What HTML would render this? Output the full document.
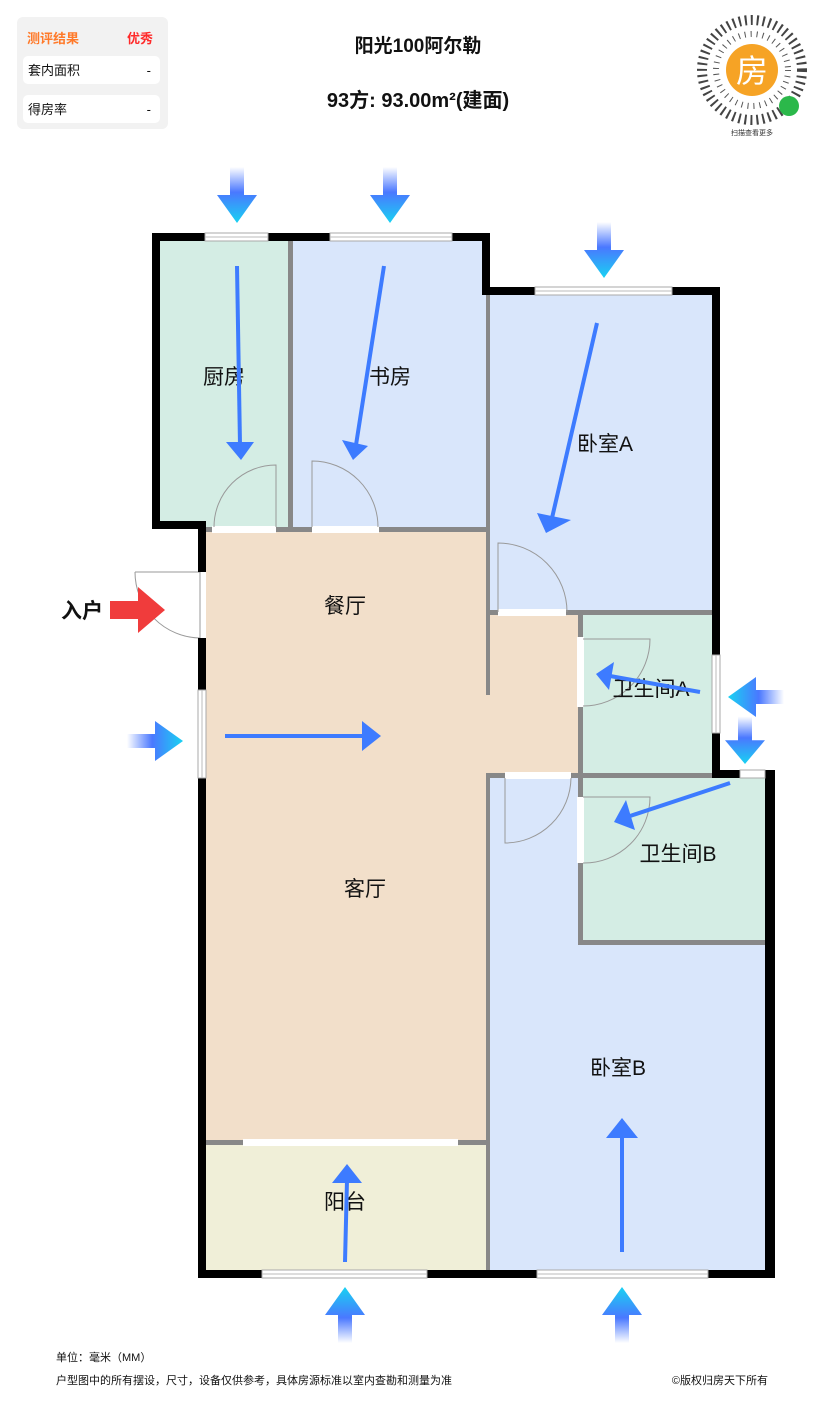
<!DOCTYPE html>
<html><head><meta charset="utf-8"><style>
body{margin:0;width:837px;height:1400px;background:#fff;overflow:hidden;font-family:"Liberation Sans","Noto Sans CJK SC",sans-serif}
</style></head><body>
<svg width="837" height="1400" viewBox="0 0 837 1400" xmlns="http://www.w3.org/2000/svg" font-family="Liberation Sans, Noto Sans CJK SC, sans-serif">
<defs>
<linearGradient id="g" gradientUnits="userSpaceOnUse" x1="0" y1="-56" x2="0" y2="0">
<stop offset="0" stop-color="#ffffff"/><stop offset="0.45" stop-color="#4a78ff"/><stop offset="1" stop-color="#18d2f2"/></linearGradient>
<g id="ar"><rect x="-7" y="-56" width="14" height="30" fill="url(#g)"/><polygon points="-20,-28 20,-28 0,0" fill="url(#g)"/></g>
</defs>
<rect x="17" y="17" width="151" height="112" rx="6" fill="#f2f2f2"/>
<text x="27" y="43" font-size="13" fill="#ff7a2a" font-weight="bold">测评结果</text>
<text x="153" y="43" font-size="13" fill="#ff2a2a" text-anchor="end" font-weight="bold">优秀</text>
<rect x="23" y="56" width="137" height="28" rx="5" fill="#fff"/>
<text x="28" y="75" font-size="13" fill="#111">套内面积</text><text x="151" y="75" font-size="13" fill="#111" text-anchor="end">-</text>
<rect x="23" y="95" width="137" height="28" rx="5" fill="#fff"/>
<text x="28" y="114" font-size="13" fill="#111">得房率</text><text x="151" y="114" font-size="13" fill="#111" text-anchor="end">-</text>
<text x="418" y="52" font-size="19" fill="#111" text-anchor="middle" font-weight="bold">阳光100阿尔勒</text>
<text x="418" y="107" font-size="20" fill="#111" text-anchor="middle" font-weight="bold">93方: 93.00m²(建面)</text>
<circle cx="752" cy="70" r="50" fill="none" stroke="#444" stroke-width="10" stroke-dasharray="2 4"/>
<circle cx="752" cy="70" r="36" fill="none" stroke="#555" stroke-width="6" stroke-dasharray="1 5"/>
<circle cx="752" cy="70" r="26" fill="#f6a325"/>
<text x="752" y="82" font-size="32" fill="#fff" text-anchor="middle">房</text>
<circle cx="789" cy="106" r="10" fill="#2bb84a"/>
<text x="752" y="135" font-size="7" fill="#333" text-anchor="middle">扫描查看更多</text>
<rect x="160" y="241" width="130" height="288" fill="#d4ede4"/>
<rect x="291" y="241" width="195" height="288" fill="#d9e6fb"/>
<rect x="488" y="295" width="226" height="318" fill="#d9e6fb"/>
<rect x="206" y="530" width="282" height="612" fill="#f2dfca"/>
<rect x="488" y="613" width="92" height="162" fill="#f2dfca"/>
<rect x="580" y="613" width="134" height="162" fill="#d4ede4"/>
<rect x="580" y="775" width="187" height="168" fill="#d4ede4"/>
<rect x="488" y="775" width="92" height="497" fill="#d9e6fb"/>
<rect x="580" y="943" width="187" height="329" fill="#d9e6fb"/>
<rect x="206" y="1142" width="282" height="130" fill="#f0efd8"/>
<g fill="#888">
<rect x="288" y="241" width="5" height="288"/>
<rect x="486" y="295" width="4" height="318"/>
<rect x="206" y="527" width="282" height="5"/>
<rect x="486" y="610" width="229" height="5"/>
<rect x="486" y="615" width="4" height="80"/>
<rect x="578" y="615" width="5" height="330"/>
<rect x="486" y="773" width="229" height="5"/>
<rect x="486" y="773" width="4" height="500"/>
<rect x="578" y="940" width="189" height="5"/>
<rect x="206" y="1140" width="282" height="5"/>
</g>
<g fill="#fff">
<rect x="212" y="526" width="64" height="7"/><rect x="312" y="526" width="67" height="7"/>
<rect x="498" y="609" width="68" height="7"/><rect x="577" y="637" width="7" height="70"/>
<rect x="505" y="772" width="66" height="7"/><rect x="577" y="797" width="7" height="66"/>
<rect x="243" y="1139" width="215" height="7"/>
</g>
<g fill="none" stroke="#999" stroke-width="1">
<path d="M276 527 V465 A62 62 0 0 0 214 527"/>
<path d="M312 527 V461 A66 66 0 0 1 378 527"/>
<path d="M498 612 V543 A69 69 0 0 1 567 612"/>
<path d="M583 639 H650 A67 67 0 0 1 583 706"/>
<path d="M505 778 V843 A66 66 0 0 0 571 778"/>
<path d="M583 797 H650 A66 66 0 0 1 583 863"/>
<path d="M135 572 H200 V638 A66 66 0 0 1 135 572"/>
</g>
<g fill="#000">
<rect x="152" y="233" width="338" height="8"/>
<rect x="152" y="233" width="8" height="296"/>
<rect x="152" y="521" width="54" height="8"/>
<rect x="198" y="521" width="8" height="51"/>
<rect x="198" y="638" width="8" height="52"/>
<rect x="198" y="778" width="8" height="500"/>
<rect x="482" y="233" width="8" height="62"/>
<rect x="482" y="287" width="238" height="8"/>
<rect x="712" y="287" width="8" height="368"/>
<rect x="712" y="733" width="8" height="45"/>
<rect x="712" y="770" width="28" height="8"/>
<rect x="765" y="770" width="10" height="508"/>
<rect x="198" y="1270" width="577" height="8"/>
</g>
<g fill="#fff" stroke="#aaa" stroke-width="1">
<rect x="205" y="233" width="63" height="8"/><rect x="330" y="233" width="122" height="8"/>
<rect x="535" y="287" width="137" height="8"/>
<rect x="712" y="655" width="8" height="78"/>
<rect x="740" y="770" width="25" height="8"/>
<rect x="198" y="690" width="8" height="88"/>
<rect x="262" y="1270" width="165" height="8"/><rect x="537" y="1270" width="171" height="8"/>
</g>
<g stroke="#bbb" stroke-width="1">
<line x1="205" y1="237" x2="268" y2="237"/><line x1="330" y1="237" x2="452" y2="237"/><line x1="535" y1="291" x2="672" y2="291"/>
<line x1="716" y1="655" x2="716" y2="733"/><line x1="202" y1="690" x2="202" y2="778"/>
<line x1="262" y1="1274" x2="427" y2="1274"/><line x1="537" y1="1274" x2="708" y2="1274"/>
</g>
<g font-size="21" fill="#111" text-anchor="middle">
<text x="224" y="384">厨房</text><text x="390" y="384">书房</text><text x="605" y="451">卧室A</text>
<text x="345" y="613">餐厅</text><text x="651" y="696">卫生间A</text><text x="365" y="896">客厅</text>
<text x="678" y="861">卫生间B</text><text x="618" y="1075">卧室B</text><text x="345" y="1209">阳台</text>
<text x="82" y="618" font-weight="bold">入户</text>
</g>
<g stroke="#3d7bff" stroke-width="4" fill="#3d7bff">
<line x1="237" y1="266" x2="240" y2="445"/><polygon stroke="none" points="226,442 254,442 241,460"/>
<line x1="384" y1="266" x2="356" y2="445"/><polygon stroke="none" points="342,440 368,446 353,460"/>
<line x1="597" y1="323" x2="552" y2="518"/><polygon stroke="none" points="537,513 571,520 546,533"/>
<line x1="225" y1="736" x2="365" y2="736"/><polygon stroke="none" points="362,721 362,751 381,736"/>
<line x1="700" y1="692" x2="610" y2="676"/><polygon stroke="none" points="614,662 609,690 596,674"/>
<line x1="730" y1="783" x2="630" y2="816"/><polygon stroke="none" points="626,800 635,830 614,822"/>
<line x1="622" y1="1252" x2="622" y2="1135"/><polygon stroke="none" points="606,1138 638,1138 622,1118"/>
<line x1="345" y1="1262" x2="347" y2="1180"/><polygon stroke="none" points="332,1183 362,1183 347,1164"/>
</g>
<polygon points="110,601 138,601 138,587 165,610 138,633 138,619 110,619" fill="#f03c3c"/>
<use href="#ar" transform="translate(237,223)"/>
<use href="#ar" transform="translate(390,223)"/>
<use href="#ar" transform="translate(604,278)"/>
<use href="#ar" transform="translate(345,1287) rotate(180)"/>
<use href="#ar" transform="translate(622,1287) rotate(180)"/>
<use href="#ar" transform="translate(183,741) rotate(-90)"/>
<use href="#ar" transform="translate(728,697) rotate(90)"/>
<use href="#ar" transform="translate(745,764) scale(1,0.85)"/>
<text x="56" y="1361" font-size="11" fill="#111">单位：毫米（MM）</text>
<text x="56" y="1384" font-size="11" fill="#111">户型图中的所有摆设，尺寸，设备仅供参考，具体房源标准以室内查勘和测量为准</text>
<text x="768" y="1384" font-size="11" fill="#111" text-anchor="end">©版权归房天下所有</text>
</svg>
</body></html>
